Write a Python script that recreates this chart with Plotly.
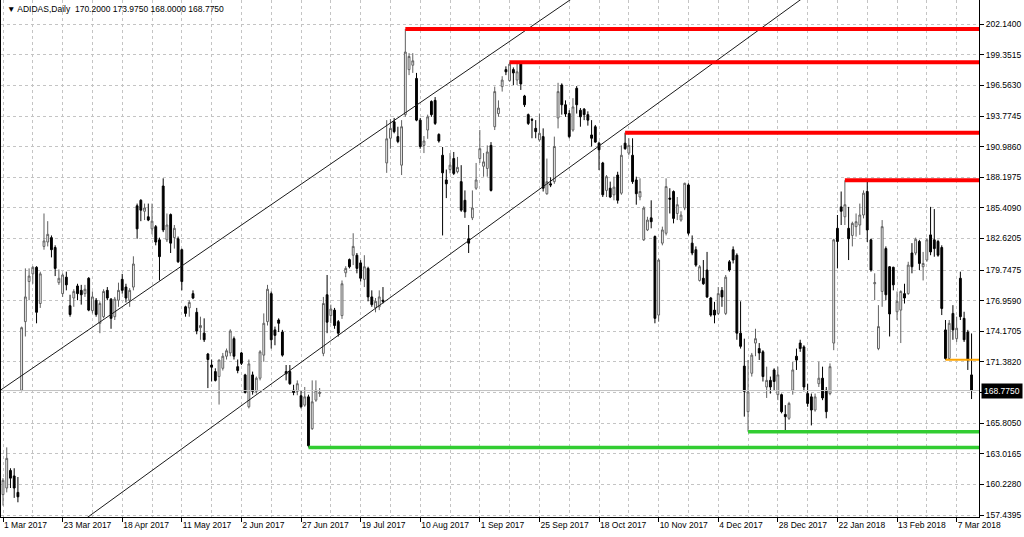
import plotly.graph_objects as go

# ---------------- data (bar index 0 = 1 Mar 2017, daily bars) ----------------
open_ = [159.3, 159.9, 161.5, 161.0, 159.5, 168.8, 175.05, 178.7, 179.4, 180.0,
         176.7, 181.9, 182.3, 182.7, 181.8, 178.6, 177.6, 179.1, 176.5, 177.2,
         178.3, 177.9, 177.6, 179.0, 176.05, 177.0, 174.9, 175.5, 177.9, 177.1,
         175.5, 177.0, 178.9, 178.2, 177.0, 178.2, 185.6, 186.1, 185.1, 184.6,
         183.5, 183.7, 182.5, 187.4, 182.5, 184.8, 182.7, 182.6, 181.6, 176.4,
         176.3, 177.6, 175.9, 174.5, 174.0, 172.1, 171.1, 170.5, 170.05, 170.8,
         171.9, 172.2, 173.5, 170.95, 172.2, 170.2, 167.3, 170.2, 168.7, 169.9,
         172.0, 175.05, 177.6, 174.3, 175.2, 174.1, 170.5, 170.5, 168.8, 168.7,
         168.3, 167.45, 168.2, 165.3, 167.9, 168.5, 172.16, 177.5, 175.6, 176.1,
         175.05, 175.6, 179.5, 180.7, 181.1, 181.1, 180.4, 178.9, 179.9, 177.3,
         176.3, 176.4, 177.0, 189.5, 191.75, 193.25, 191.9, 189.3, 193.9, 198.0,
         198.4, 197.2, 193.4, 191.1, 192.5, 195.1, 195.2, 192.1, 190.2, 187.95,
         188.9, 189.9, 188.7, 187.8, 186.1, 182.6, 184.5, 187.2, 189.9, 189.2,
         189.0, 191.1, 192.8, 194.0, 196.45, 198.0, 197.0, 198.0, 197.05, 198.55,
         195.6, 193.9, 193.45, 192.65, 191.6, 191.9, 186.7, 187.6, 187.8, 193.6,
         196.6, 194.8, 194.0, 192.5, 196.3, 194.3, 194.4, 193.9, 192.05, 192.8,
         191.3, 189.5, 187.0, 187.2, 186.6, 188.4, 186.75, 191.3, 190.4, 190.2,
         187.95, 186.4, 182.5, 183.4, 184.5, 182.8, 175.65, 182.2, 183.1, 186.3,
         186.9, 184.9, 184.3, 185.4, 187.5, 182.2, 181.6, 178.8, 179.0, 179.75,
         177.2, 176.1, 175.8, 177.9, 175.8, 180.5, 181.6, 181.1, 174.0, 171.0,
         166.85, 170.35, 173.1, 172.6, 172.3, 169.1, 169.7, 170.65, 168.4, 168.4,
         166.6, 166.25, 168.8, 171.9, 173.1, 172.75, 168.5, 168.2, 167.0, 169.4,
         169.9, 168.8, 168.5, 173.1, 183.55, 185.5, 184.6, 183.55, 182.9, 183.7,
         183.85, 184.76, 186.9, 182.5, 178.5, 172.6, 177.8, 181.7, 180.05, 180.0,
         175.95, 176.1, 177.6, 177.6, 181.3, 181.3, 182.35, 180.05, 180.66, 182.95,
         182.5, 182.35, 181.8, 174.3, 171.7, 175.8, 173.5, 179.0, 175.35, 174.1,
         170.2]
high = [160.8, 163.6, 161.7, 161.7, 160.9, 174.6, 179.9, 179.9, 180.1, 180.1,
        179.6, 184.9, 184.2, 182.9, 182.0, 179.8, 179.45, 179.6, 177.5, 178.0,
        178.5, 178.4, 178.4, 179.1, 177.8, 177.2, 176.9, 178.0, 178.2, 177.2,
        177.3, 178.6, 179.4, 178.5, 178.1, 181.0, 185.8, 186.2, 185.8, 185.8,
        185.8, 183.85, 182.7, 188.1, 184.9, 184.9, 183.85, 182.8, 181.7, 176.5,
        177.0, 177.9, 176.3, 175.5, 175.35, 172.2, 171.6, 170.8, 171.6, 172.2,
        172.6, 174.35, 173.7, 171.6, 172.3, 170.3, 171.6, 170.5, 170.05, 172.45,
        175.8, 178.4, 177.8, 174.6, 175.35, 174.3, 171.1, 171.1, 169.3, 169.7,
        168.8, 169.1, 168.4, 169.7, 169.7, 169.0, 177.3, 179.3, 176.6, 176.3,
        175.2, 178.8, 180.1, 180.8, 183.1, 181.3, 180.65, 181.1, 180.05, 177.9,
        177.2, 177.9, 178.2, 193.4, 193.5, 193.6, 192.8, 193.4, 201.7, 199.5,
        199.5, 197.7, 193.6, 191.95, 193.9, 195.2, 195.5, 192.2, 190.95, 188.9,
        190.4, 190.5, 190.05, 189.3, 187.0, 183.85, 187.0, 189.5, 192.5, 190.4,
        191.1, 191.4, 196.45, 195.2, 197.4, 198.3, 198.67, 198.2, 198.6, 198.6,
        195.7, 194.0, 193.6, 193.4, 194.0, 192.65, 189.9, 188.2, 191.9, 196.8,
        196.75, 195.2, 194.3, 195.4, 196.5, 194.5, 194.5, 194.2, 193.4, 192.96,
        191.44, 189.6, 188.4, 187.8, 188.25, 188.7, 191.1, 192.26, 191.75, 191.75,
        188.25, 188.1, 185.55, 184.6, 186.1, 182.9, 180.8, 183.7, 188.1, 187.2,
        187.0, 186.4, 185.1, 187.7, 187.65, 182.9, 181.9, 180.2, 180.66, 181.4,
        177.3, 176.85, 178.2, 178.2, 179.3, 180.66, 181.9, 181.27, 176.9, 173.5,
        171.56, 172.2, 174.4, 173.1, 172.45, 170.95, 170.05, 170.8, 170.95, 168.5,
        167.45, 167.75, 171.4, 172.6, 173.4, 172.9, 169.4, 168.5, 168.5, 171.4,
        170.95, 169.1, 171.25, 182.6, 184.76, 186.9, 187.92, 185.5, 184.15, 184.9,
        185.8, 187.0, 187.85, 182.6, 179.45, 176.55, 184.3, 181.9, 180.1, 180.05,
        177.8, 177.9, 178.5, 180.5, 182.2, 182.7, 182.5, 181.4, 182.6, 185.5,
        185.3, 182.5, 182.0, 175.2, 175.2, 176.55, 175.5, 179.6, 175.95, 174.3,
        173.975]
low = [158.3, 159.5, 159.9, 159.0, 158.6, 168.7, 173.7, 177.0, 178.5, 174.9,
       176.3, 181.6, 181.9, 180.9, 179.2, 178.4, 177.3, 177.9, 175.5, 176.4,
       177.0, 176.6, 177.3, 176.0, 175.8, 175.5, 174.0, 175.35, 177.0, 174.4,
       175.2, 176.4, 177.6, 176.8, 176.4, 177.9, 182.6, 184.2, 184.3, 184.2,
       183.0, 182.0, 178.8, 183.2, 182.3, 181.3, 181.7, 180.4, 177.9, 175.5,
       175.5, 177.1, 173.9, 173.4, 173.2, 169.0, 169.6, 169.6, 167.5, 170.6,
       171.6, 171.9, 171.6, 170.35, 171.1, 168.5, 167.15, 168.4, 168.5, 169.7,
       171.4, 174.7, 172.6, 172.9, 174.1, 171.86, 169.7, 169.3, 168.35, 168.35,
       167.15, 167.3, 163.59, 165.2, 167.75, 168.2, 171.9, 174.0, 174.9, 174.4,
       173.7, 175.3, 179.1, 179.9, 180.2, 179.45, 178.7, 178.2, 176.9, 176.4,
       175.9, 176.1, 176.7, 188.6, 190.8, 192.2, 191.3, 188.4, 193.7, 197.5,
       197.7, 193.3, 190.8, 190.4, 191.7, 193.7, 192.96, 191.35, 182.9, 186.3,
       188.55, 188.4, 188.55, 185.05, 184.5, 181.3, 184.3, 187.05, 189.5, 188.25,
       188.25, 186.9, 192.5, 193.7, 196.0, 197.5, 196.9, 196.6, 196.6, 196.15,
       194.6, 192.96, 191.75, 191.75, 191.44, 186.9, 186.6, 187.3, 187.6, 192.65,
       193.9, 193.7, 191.75, 192.35, 194.0, 192.8, 193.4, 192.9, 191.0, 191.35,
       188.85, 186.4, 186.4, 186.3, 186.1, 185.8, 186.6, 190.7, 190.2, 187.6,
       185.7, 186.1, 182.4, 183.3, 183.55, 174.9, 175.05, 182.0, 182.9, 184.9,
       184.0, 184.3, 184.15, 185.2, 182.9, 181.1, 180.05, 178.7, 178.4, 177.2,
       175.5, 174.9, 175.65, 176.4, 175.65, 179.6, 180.35, 173.4, 172.6, 166.4,
       165.03, 170.05, 171.9, 171.56, 169.6, 168.1, 168.5, 168.8, 167.9, 166.7,
       165.1, 166.1, 168.4, 170.65, 172.3, 168.7, 167.3, 165.6, 166.85, 169.1,
       167.9, 166.25, 168.35, 172.45, 179.9, 183.85, 183.85, 180.66, 181.9, 182.8,
       182.95, 184.45, 182.3, 179.6, 177.0, 172.45, 176.4, 177.0, 173.7, 177.9,
       175.2, 173.1, 176.7, 177.5, 179.45, 181.1, 179.75, 178.8, 180.5, 181.1,
       180.96, 180.96, 175.65, 171.58, 171.58, 173.4, 173.2, 175.2, 173.2, 170.65,
       168.0]
close = [160.6, 162.6, 160.8, 159.9, 159.1, 174.5, 177.3, 179.2, 180.0, 175.9,
         179.4, 182.4, 183.0, 181.6, 179.9, 179.0, 179.3, 178.4, 175.7, 177.8,
         177.6, 177.5, 178.0, 176.1, 177.3, 175.7, 176.7, 177.8, 177.2, 175.35,
         177.1, 177.9, 177.9, 177.2, 177.9, 180.3, 183.5, 185.2, 185.4, 184.3,
         184.2, 182.3, 180.97, 183.4, 183.85, 182.2, 183.55, 180.5, 178.7, 175.8,
         176.8, 177.2, 174.2, 174.7, 173.4, 171.6, 170.9, 169.7, 171.55, 171.9,
         172.4, 174.2, 171.9, 170.6, 171.25, 168.6, 171.2, 168.7, 169.9, 172.3,
         174.9, 178.0, 173.4, 173.8, 174.9, 172.0, 170.3, 169.4, 168.6, 169.4,
         167.3, 168.2, 163.75, 167.75, 168.8, 168.6, 176.7, 175.0, 176.2, 174.7,
         174.0, 178.5, 179.9, 180.05, 181.9, 179.9, 179.0, 180.05, 177.3, 176.6,
         176.9, 177.3, 176.9, 191.7, 192.65, 192.35, 191.45, 192.8, 199.6, 199.2,
         198.8, 193.4, 191.0, 191.5, 193.7, 193.9, 193.1, 191.5, 188.6, 187.6,
         189.3, 188.55, 189.1, 185.2, 185.05, 182.2, 185.4, 187.95, 190.8, 189.6,
         190.5, 187.0, 196.0, 194.5, 197.05, 197.8, 198.5, 197.7, 197.8, 196.7,
         194.8, 193.1, 193.4, 192.35, 192.2, 187.2, 187.8, 187.5, 191.0, 196.0,
         194.8, 193.96, 191.9, 194.6, 194.8, 193.7, 193.9, 193.4, 191.75, 191.4,
         190.7, 186.6, 188.25, 186.4, 187.3, 186.1, 190.2, 190.8, 191.1, 187.8,
         186.7, 186.9, 185.4, 184.3, 184.15, 175.35, 180.66, 183.4, 187.35, 186.2,
         184.45, 185.7, 184.75, 187.65, 183.1, 181.3, 180.2, 180.05, 178.5, 177.3,
         175.65, 175.65, 177.6, 177.3, 179.1, 179.75, 180.66, 174.0, 172.8, 168.7,
         168.65, 172.0, 173.5, 172.2, 170.05, 169.7, 169.1, 169.6, 170.2, 166.85,
         166.4, 167.6, 170.65, 171.55, 172.6, 169.1, 167.6, 167.0, 168.2, 169.9,
         168.1, 166.85, 170.95, 182.5, 182.35, 185.1, 185.7, 182.6, 184.0, 184.15,
         184.76, 186.75, 183.4, 179.75, 178.6, 174.6, 183.7, 177.5, 175.75, 178.4,
         176.9, 177.8, 177.2, 180.2, 180.05, 182.55, 180.35, 180.35, 182.5, 181.4,
         181.7, 181.1, 176.25, 171.7, 174.9, 174.3, 174.45, 175.5, 173.4, 171.55,
         168.775]

bars = list(range(len(close)))

x_tick_bars = [0, 16, 32, 48, 64, 80, 96, 112, 128, 144, 160, 176, 192, 208, 224, 240, 256]
x_tick_labels = ["1 Mar 2017", "23 Mar 2017", "18 Apr 2017", "11 May 2017", "2 Jun 2017",
                 "27 Jun 2017", "19 Jul 2017", "10 Aug 2017", "1 Sep 2017", "25 Sep 2017",
                 "18 Oct 2017", "10 Nov 2017", "4 Dec 2017", "28 Dec 2017", "22 Jan 2018",
                 "13 Feb 2018", "7 Mar 2018"]

y_tick_values = [202.1400, 199.3515, 196.5630, 193.7745, 190.9860, 188.1975, 185.4090,
                 182.6205, 179.7475, 176.9590, 174.1705, 171.3820, 168.5935, 165.8050,
                 163.0165, 160.2280, 157.4395]
y_tick_labels = ["202.1400", "199.3515", "196.5630", "193.7745", "190.9860", "188.1975",
                 "185.4090", "182.6205", "179.7475", "176.9590", "174.1705", "171.3820",
                 "", "165.8050", "163.0165", "160.2280", "157.4395"]

# horizontal levels: anchored at the high / low of a given bar
resistance_bars = [108, 136, 167, 226]
support_bars = [82, 200]
recent_low_bars = [253]

# channel trend lines: two anchor points each (bar, price)
channel_upper_bars = [0, 150]
channel_upper_prices = [168.97, 203.83]
channel_lower_bars = [30, 210]
channel_lower_prices = [159.03, 203.36]

symbol = "ADIDAS"
timeframe = "Daily"

# ---------------- figure ----------------
X_MIN, X_MAX = -0.54, 262.0
Y_MIN, Y_MAX = 157.26, 204.34

fig = go.Figure()


def extend(bx, py):
    slope = (py[1] - py[0]) / (bx[1] - bx[0])
    xs = [X_MIN - 5, X_MAX + 5]
    return xs, [py[0] + slope * (x - bx[0]) for x in xs]


for bx, py in [(channel_upper_bars, channel_upper_prices),
               (channel_lower_bars, channel_lower_prices)]:
    xs, ys = extend(bx, py)
    fig.add_trace(go.Scatter(x=xs, y=ys, mode="lines",
                             line=dict(color="#1a1a1a", width=1),
                             hoverinfo="skip", showlegend=False))

# current price line
fig.add_trace(go.Scatter(x=[X_MIN - 5, X_MAX + 5], y=[close[-1], close[-1]], mode="lines",
                         line=dict(color="#c0c0c0", width=1),
                         hoverinfo="skip", showlegend=False))

fig.add_trace(go.Candlestick(
    x=bars, open=open_, high=high, low=low, close=close,
    increasing=dict(line=dict(color="#606060", width=1), fillcolor="#ffffff"),
    decreasing=dict(line=dict(color="#000000", width=1), fillcolor="#000000"),
    whiskerwidth=0, showlegend=False))

for b in resistance_bars:
    fig.add_trace(go.Scatter(x=[b, X_MAX + 5], y=[high[b], high[b]], mode="lines",
                             line=dict(color="#ff0000", width=4),
                             hoverinfo="skip", showlegend=False))
for b in support_bars:
    fig.add_trace(go.Scatter(x=[b, X_MAX + 5], y=[low[b], low[b]], mode="lines",
                             line=dict(color="#32cd32", width=3.5),
                             hoverinfo="skip", showlegend=False))
for b in recent_low_bars:
    fig.add_trace(go.Scatter(x=[b, X_MAX + 5], y=[low[b], low[b]], mode="lines",
                             line=dict(color="#ffa500", width=2),
                             hoverinfo="skip", showlegend=False))

FONT = "Liberation Sans, Arial, sans-serif"

fig.update_layout(
    width=1024, height=537,
    margin=dict(l=1, r=45, t=0, b=20),
    paper_bgcolor="white", plot_bgcolor="white",
    font=dict(family=FONT, size=8.5, color="#000000"),
    showlegend=False,
    xaxis=dict(
        range=[X_MIN, X_MAX], rangeslider=dict(visible=False),
        tickmode="array", tickvals=x_tick_bars, ticktext=x_tick_labels,
        ticks="outside", ticklen=4, tickcolor="#000000",
        ticklabelposition="outside right",
        showgrid=True, gridcolor="#c4c4c4", griddash="3px,3px", gridwidth=1,
        minor=dict(tick0=0, dtick=8, showgrid=True, gridcolor="#c4c4c4",
                   griddash="3px,3px", ticks=""),
        showline=True, linecolor="#000000", linewidth=1,
        zeroline=False, fixedrange=True,
    ),
    yaxis=dict(
        range=[Y_MIN, Y_MAX], side="right",
        tickmode="array", tickvals=y_tick_values, ticktext=y_tick_labels,
        ticks="outside", ticklen=4, tickcolor="#000000",
        showgrid=True, gridcolor="#c4c4c4", griddash="3px,3px", gridwidth=1,
        showline=True, linecolor="#000000", linewidth=1, mirror=True,
        zeroline=False, fixedrange=True,
    ),
)

fig.add_annotation(
    xref="paper", yref="paper", x=0, y=1, xanchor="left", yanchor="top",
    xshift=4, yshift=-2, showarrow=False,
    text=f"\u25BC {symbol},{timeframe}  {open_[-1]:.4f} {high[-1]:.4f} {low[-1]:.4f} {close[-1]:.4f}",
    font=dict(family=FONT, size=8.5, color="#000000"))

fig.add_annotation(
    xref="paper", yref="y", x=1, y=close[-1], xanchor="left", yanchor="middle",
    xshift=2, showarrow=False, text=f"{close[-1]:.4f}",
    bgcolor="#000000", borderpad=2,
    font=dict(family=FONT, size=8.5, color="#ffffff"))

fig.write_html("out.html", config={"displayModeBar": False},
               post_script="document.body.style.margin='0';document.body.style.overflow='hidden';")
